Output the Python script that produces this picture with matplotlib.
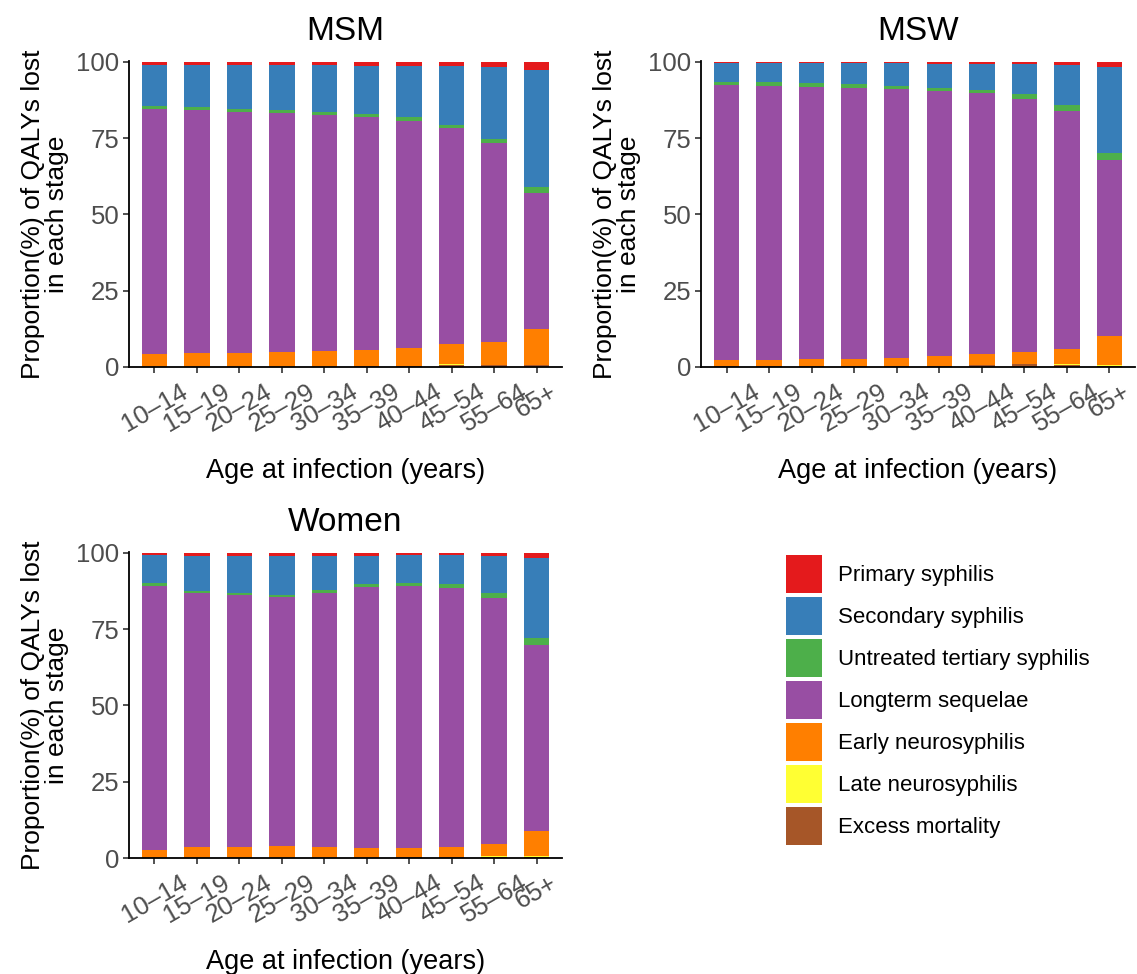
import numpy as np
import matplotlib.pyplot as plt
from matplotlib.patches import Rectangle

plt.rcParams['font.family'] = ['Liberation Sans', 'DejaVu Sans']

ages = ["10–14", "15–19", "20–24", "25–29", "30–34", "35–39",
        "40–44", "45–54", "55–64", "65+"]

stages = ["Excess mortality", "Late neurosyphilis", "Early neurosyphilis",
          "Longterm sequelae", "Untreated tertiary syphilis",
          "Secondary syphilis", "Primary syphilis"]
colors = ["#A65628", "#FFFF33", "#FF7F00", "#984EA3", "#4DAF4A",
          "#377EB8", "#E41A1C"]

# values in %, bottom to top of each bar
msm_excess = [0.1, 0.1, 0.1, 0.1, 0.1, 0.2, 0.3, 0.8, 0.6, 0.5]
msm_late = [0.0, 0.0, 0.0, 0.0, 0.0, 0.0, 0.0, 0.1, 0.1, 0.3]
msm_early = [4.1, 4.4, 4.6, 4.8, 5.1, 5.4, 5.9, 6.6, 7.6, 11.8]
msm_longterm = [80.4, 79.7, 78.9, 78.3, 77.3, 76.2, 74.5, 70.8, 65.1, 44.4]
msm_tertiary = [1.0, 1.0, 1.0, 1.0, 1.0, 1.0, 1.1, 1.1, 1.3, 1.9]
msm_secondary = [13.3, 13.7, 14.3, 14.7, 15.4, 16.0, 16.9, 19.2, 23.7, 38.4]
msm_primary = [1.1, 1.1, 1.1, 1.1, 1.1, 1.2, 1.3, 1.4, 1.6, 2.7]

msw_excess = [0.2, 0.2, 0.2, 0.3, 0.3, 0.4, 0.5, 1.0, 0.8, 0.3]
msw_late = [0.0, 0.0, 0.0, 0.0, 0.0, 0.0, 0.1, 0.1, 0.1, 0.4]
msw_early = [2.0, 2.1, 2.3, 2.4, 2.8, 3.2, 3.5, 3.8, 4.9, 9.3]
msw_longterm = [90.3, 89.9, 89.4, 88.9, 87.9, 86.8, 85.6, 83.0, 78.2, 57.9]
msw_tertiary = [1.0, 1.2, 1.1, 1.1, 1.2, 1.2, 1.1, 1.5, 1.8, 2.3]
msw_secondary = [6.0, 6.1, 6.5, 6.8, 7.3, 7.8, 8.5, 9.8, 13.2, 28.2]
msw_primary = [0.5, 0.5, 0.5, 0.5, 0.5, 0.6, 0.7, 0.8, 1.0, 1.6]

women_excess = [0.05, 0.05, 0.05, 0.1, 0.1, 0.1, 0.2, 0.3, 0.4, 0.3]
women_late = [0.0, 0.0, 0.0, 0.0, 0.0, 0.0, 0.0, 0.1, 0.1, 0.3]
women_early = [2.55, 3.45, 3.65, 3.9, 3.5, 3.2, 3.1, 3.3, 4.1, 8.3]
women_longterm = [86.6, 83.4, 82.5, 81.5, 83.4, 85.6, 85.8, 84.8, 80.5, 60.9]
women_tertiary = [0.9, 0.7, 0.6, 0.7, 0.8, 0.9, 1.0, 1.3, 1.6, 2.3]
women_secondary = [9.2, 11.4, 12.1, 12.7, 11.3, 9.3, 9.1, 9.4, 12.3, 26.3]
women_primary = [0.7, 1.0, 1.1, 1.1, 0.9, 0.9, 0.8, 0.8, 1.0, 1.6]

panels = {
    "MSM": [msm_excess, msm_late, msm_early, msm_longterm,
            msm_tertiary, msm_secondary, msm_primary],
    "MSW": [msw_excess, msw_late, msw_early, msw_longterm,
            msw_tertiary, msw_secondary, msw_primary],
    "Women": [women_excess, women_late, women_early, women_longterm,
              women_tertiary, women_secondary, women_primary],
}

W, H = 1137, 974
fig = plt.figure(figsize=(W / 100, H / 100), dpi=100)


def px_axes(left, right, top, bottom):
    return fig.add_axes([left / W, 1 - bottom / H, (right - left) / W, (bottom - top) / H])


boxes = {
    "MSM": (129, 562, 61, 367),
    "MSW": (701, 1135, 61, 367),
    "Women": (129, 562, 552, 858),
}

gray = "#4D4D4D"
x = np.arange(len(ages))
for name, layers in panels.items():
    ax = px_axes(*boxes[name])
    bottom = np.zeros(len(ages))
    for vals, col in zip(layers, colors):
        ax.bar(x, vals, 0.6, bottom=bottom, color=col, linewidth=0)
        bottom += np.array(vals)
    ax.set_xlim(-0.6, len(ages) - 0.4)
    ax.set_ylim(0, 100.3)
    ax.set_yticks([0, 25, 50, 75, 100])
    ax.set_xticks(x)
    ax.set_xticklabels(ages, rotation=30, ha="center", va="top")
    ax.tick_params(axis="both", labelsize=18.5, labelcolor=gray, length=4,
                   width=1.2, color="#333333")
    ax.tick_params(axis="y", pad=3)
    ax.tick_params(axis="x", pad=5)
    for s in ["top", "right"]:
        ax.spines[s].set_visible(False)
    for s in ["left", "bottom"]:
        ax.spines[s].set_linewidth(1.3)
    ax.set_title(name, fontsize=24, pad=15)
    ax.set_xlabel("Age at infection (years)", fontsize=19.5, labelpad=16)
    ax.set_ylabel("Proportion(%) of QALYs lost\nin each stage", fontsize=19,
                  labelpad=5, linespacing=1.0)

# legend drawn in pixel coordinates
leg = fig.add_axes([0, 0, 1, 1])
leg.set_xlim(0, W)
leg.set_ylim(H, 0)
leg.axis("off")
for i, (lab, col) in enumerate(zip(stages[::-1], colors[::-1])):
    top = 555 + i * 42
    leg.add_patch(Rectangle((786, top), 36, 38, facecolor=col, edgecolor="none"))
    leg.text(838, top + 21, lab, fontsize=16, va="center", ha="left")

fig.savefig("out.png", dpi=100)
